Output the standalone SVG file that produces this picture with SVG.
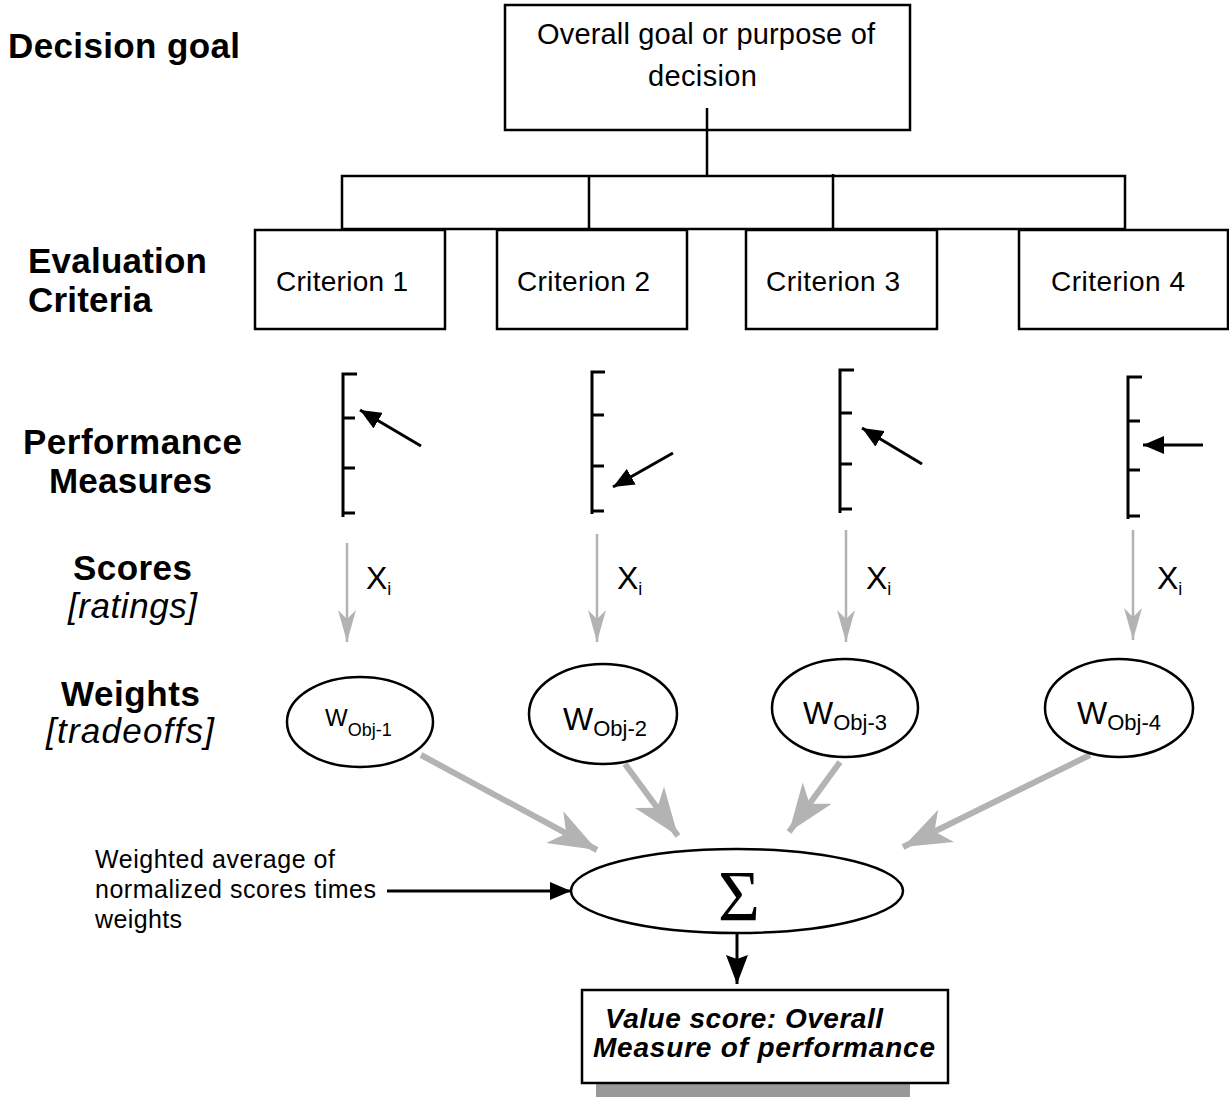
<svg xmlns="http://www.w3.org/2000/svg" width="1229" height="1097" viewBox="0 0 1229 1097">
<style>
text{font-family:"Liberation Sans",Arial,sans-serif;fill:#000}
.lbl{font-weight:bold;font-size:35px}
.it{font-style:italic;font-size:35px}
.box{fill:#fff;stroke:#000;stroke-width:2.5}
.ln{stroke:#000;stroke-width:2.5;fill:none}
.crit{font-size:28px}
.scale{stroke:#000;stroke-width:3;fill:none}
.ga{stroke:#b3b3b3;stroke-width:2.5;fill:none}
.gt{stroke:#b3b3b3;stroke-width:6;fill:none}
.ba{stroke:#000;stroke-width:3;fill:none}
.ell{fill:#fff;stroke:#000;stroke-width:2.5}
</style>
<defs>
<marker id="gs" markerUnits="userSpaceOnUse" markerWidth="34" markerHeight="20" viewBox="0 0 34 20" refX="32" refY="10" orient="auto"><path d="M0,1 L32,10 L0,19 L9,10 Z" fill="#b3b3b3"/></marker>
<marker id="gt" markerUnits="userSpaceOnUse" markerWidth="50" markerHeight="38" viewBox="0 0 50 38" refX="48" refY="19" orient="auto"><path d="M0,1 L48,19 L0,37 L13,19 Z" fill="#b3b3b3"/></marker>
<marker id="bs" markerUnits="userSpaceOnUse" markerWidth="22" markerHeight="18" viewBox="0 0 22 18" refX="21" refY="9" orient="auto"><path d="M0,0 L21,9 L0,18 Z" fill="#000"/></marker>
<marker id="bd" markerUnits="userSpaceOnUse" markerWidth="30" markerHeight="22" viewBox="0 0 30 22" refX="29" refY="11" orient="auto"><path d="M0,0 L29,11 L0,22 L4,11 Z" fill="#000"/></marker>
</defs>

<g id="labels">
<text class="lbl" x="8" y="58" textLength="232">Decision goal</text>
<text class="lbl" x="28" y="273" textLength="179">Evaluation</text>
<text class="lbl" x="28" y="312" textLength="124">Criteria</text>
<text class="lbl" x="23" y="454" textLength="219">Performance</text>
<text class="lbl" x="49" y="493" textLength="163">Measures</text>
<text class="lbl" x="73" y="580" textLength="119">Scores</text>
<text class="it" x="68" y="618" textLength="129">[ratings]</text>
<text class="lbl" x="61" y="706" textLength="139">Weights</text>
<text class="it" x="46" y="743" textLength="168">[tradeoffs]</text>
</g>

<g id="connectors">
<line class="ln" x1="707" y1="108" x2="707" y2="176"/>
<rect class="ln" x="342" y="176" width="783" height="53"/>
<line class="ln" x1="589" y1="176" x2="589" y2="229"/>
<line class="ln" x1="833" y1="174" x2="833" y2="229"/>
<line class="ga" x1="347" y1="543" x2="347" y2="642" marker-end="url(#gs)"/>
<line class="ga" x1="597" y1="534" x2="597" y2="642" marker-end="url(#gs)"/>
<line class="ga" x1="846" y1="530" x2="846" y2="642" marker-end="url(#gs)"/>
<line class="ga" x1="1133" y1="530" x2="1133" y2="640" marker-end="url(#gs)"/>
<line class="gt" x1="421" y1="755" x2="597" y2="850" marker-end="url(#gt)"/>
<line class="gt" x1="625" y1="764" x2="678" y2="836" marker-end="url(#gt)"/>
<line class="gt" x1="840" y1="762" x2="789" y2="832" marker-end="url(#gt)"/>
<line class="gt" x1="1090" y1="755" x2="903" y2="847" marker-end="url(#gt)"/>
<line class="ba" x1="387" y1="891" x2="571" y2="891" marker-end="url(#bs)"/>
<line class="ba" x1="737" y1="934" x2="737" y2="984" marker-end="url(#bd)"/>
</g>

<g id="goal">
<rect class="box" x="505" y="5" width="405" height="125"/>
<line class="ln" x1="707" y1="108" x2="707" y2="130"/>
<text x="537" y="44" font-size="29" textLength="338">Overall goal or purpose of</text>
<text x="648" y="86" font-size="29" textLength="109">decision</text>
</g>

<g id="criterion1"><rect class="box" x="255" y="230" width="190" height="99"/><text class="crit" x="276" y="291" textLength="132">Criterion 1</text></g>
<g id="criterion2"><rect class="box" x="497" y="230" width="190" height="99"/><text class="crit" x="517" y="291" textLength="133">Criterion 2</text></g>
<g id="criterion3"><rect class="box" x="746" y="230" width="191" height="99"/><text class="crit" x="766" y="291" textLength="134">Criterion 3</text></g>
<g id="criterion4"><rect class="box" x="1019" y="230" width="209" height="99"/><text class="crit" x="1051" y="291" textLength="134">Criterion 4</text></g>

<g id="measure1">
<path class="scale" d="M357,374 H343 V517"/>
<path class="scale" d="M343,418 H355 M343,468 H355 M343,513 H355"/>
<line class="ba" x1="421" y1="446" x2="360" y2="410" marker-end="url(#bs)"/>
</g>
<g id="measure2">
<path class="scale" d="M605,372 H592 V514"/>
<path class="scale" d="M592,415 H604 M592,466 H604 M592,511 H604"/>
<line class="ba" x1="673" y1="453" x2="613" y2="487" marker-end="url(#bs)"/>
</g>
<g id="measure3">
<path class="scale" d="M854,370 H840 V513"/>
<path class="scale" d="M840,413 H852 M840,464 H852 M840,509 H852"/>
<line class="ba" x1="922" y1="464" x2="862" y2="428" marker-end="url(#bs)"/>
</g>
<g id="measure4">
<path class="scale" d="M1142,377 H1128 V519"/>
<path class="scale" d="M1128,421 H1140 M1128,470 H1140 M1128,516 H1140"/>
<line class="ba" x1="1203" y1="445" x2="1143" y2="445" marker-end="url(#bs)"/>
</g>

<g id="scores">
<text x="366" y="589" font-size="32">X<tspan font-size="18" dy="6">i</tspan></text>
<text x="617" y="589" font-size="32">X<tspan font-size="18" dy="6">i</tspan></text>
<text x="866" y="589" font-size="32">X<tspan font-size="18" dy="6">i</tspan></text>
<text x="1157" y="589" font-size="32">X<tspan font-size="18" dy="6">i</tspan></text>
</g>

<g id="weight1"><ellipse class="ell" cx="360" cy="722" rx="73" ry="45"/><text x="325" y="726" font-size="24">W<tspan font-size="18" dy="10">Obj-1</tspan></text></g>
<g id="weight2"><ellipse class="ell" cx="603" cy="714" rx="74" ry="50"/><text x="563" y="730" font-size="32">W<tspan font-size="22" dy="6">Obj-2</tspan></text></g>
<g id="weight3"><ellipse class="ell" cx="845" cy="708" rx="73" ry="49"/><text x="803" y="724" font-size="32">W<tspan font-size="22" dy="6">Obj-3</tspan></text></g>
<g id="weight4"><ellipse class="ell" cx="1119" cy="708" rx="74" ry="49"/><text x="1077" y="724" font-size="32">W<tspan font-size="22" dy="6">Obj-4</tspan></text></g>

<g id="note">
<text x="95" y="868" font-size="25" textLength="240">Weighted average of</text>
<text x="95" y="898" font-size="25" textLength="281">normalized scores times</text>
<text x="95" y="928" font-size="25" textLength="87">weights</text>
</g>

<g id="sum">
<ellipse class="ell" cx="737" cy="891" rx="166" ry="42"/>
<text x="739" y="920" font-size="72" text-anchor="middle" style="font-family:'Liberation Serif','Times New Roman',serif">Σ</text>
</g>

<g id="value">
<rect x="596" y="1083" width="314" height="14" fill="#999"/>
<rect class="box" x="582" y="990" width="366" height="93"/>
<text x="605" y="1028" font-size="28" font-weight="bold" font-style="italic" textLength="278">Value score: Overall</text>
<text x="593" y="1057" font-size="28" font-weight="bold" font-style="italic" textLength="342">Measure of performance</text>
</g>
</svg>
